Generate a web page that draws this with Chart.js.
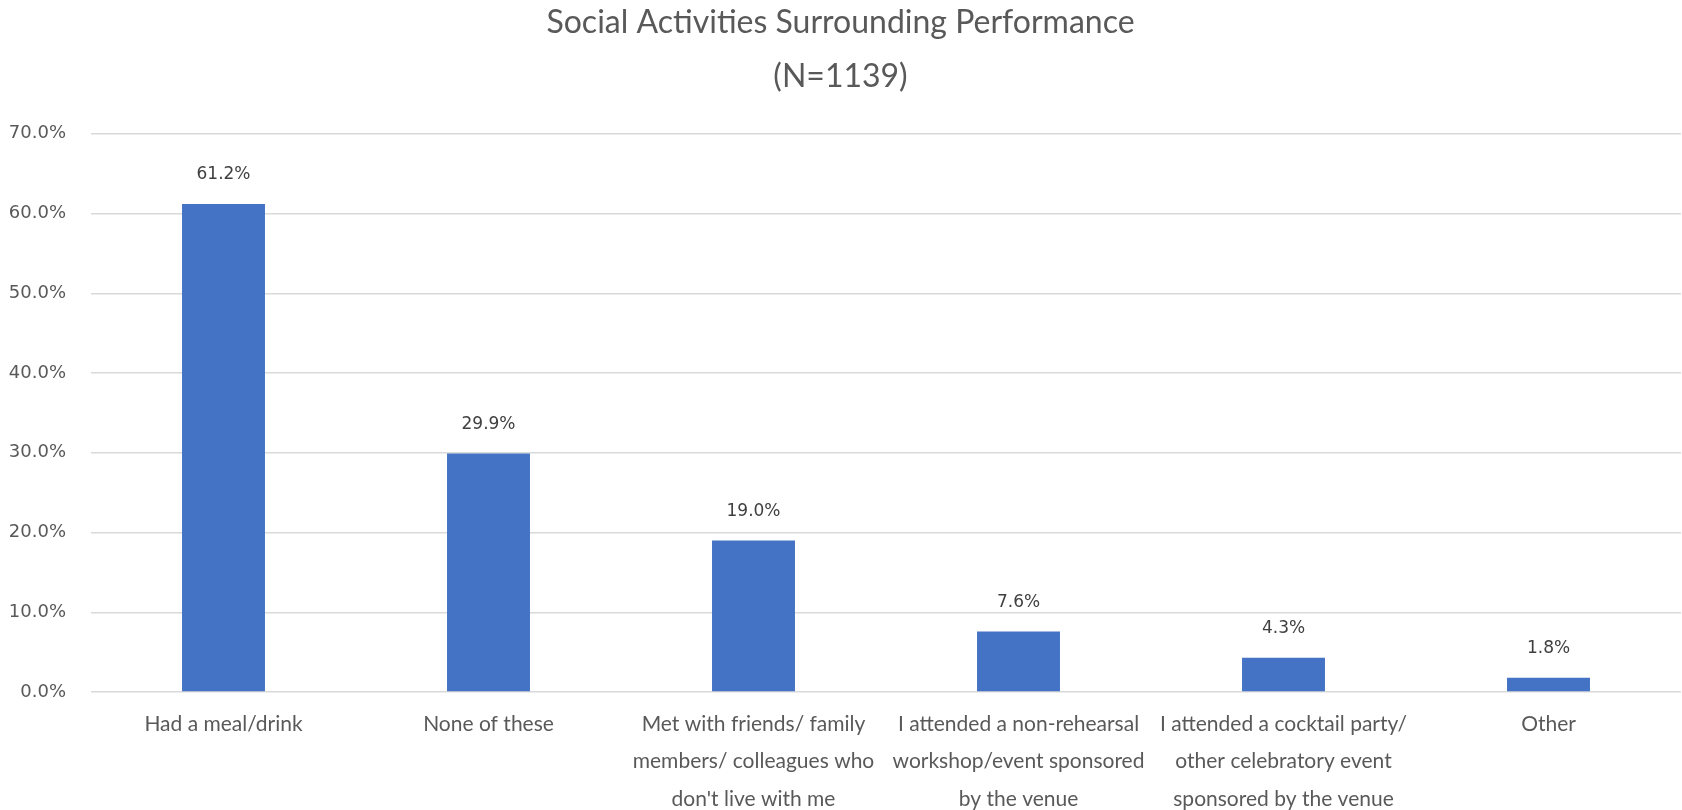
<!DOCTYPE html>
<html>
<head>
<meta charset="utf-8">
<script src="https://cdn.jsdelivr.net/npm/chart.js@4/dist/chart.umd.min.js"></script>
<style>
  body { margin: 0; background: #fff; }
</style>
</head>
<body>
<canvas id="socialChart" width="1682" height="810"></canvas>
<script>
        const labels = [
            'Had a meal/drink',
            'None of these',
            ['Met with friends/ family', 'members/ colleagues who', "don't live with me"],
            ['I attended a non-rehearsal', 'workshop/event sponsored', 'by the venue'],
            ['I attended a cocktail party/', 'other celebratory event', 'sponsored by the venue'],
            'Other',
        ];

        const values = [61.2, 29.9, 19.0, 7.6, 4.3, 1.8];

        const yTicks = [0, 10, 20, 30, 40, 50, 60, 70];

        // value labels above each bar
        const barLabels = {
            id: 'barLabels',
            afterDatasetsDraw(chart) {
                const ctx = chart.ctx;
                const meta = chart.getDatasetMeta(0);
                ctx.save();
                ctx.font = '17px "DejaVu Sans"';
                ctx.fillStyle = '#404040';
                ctx.textAlign = 'center';
                ctx.textBaseline = 'middle';
                meta.data.forEach((bar, i) => {
                    ctx.fillText(values[i].toFixed(1) + '%', bar.x, bar.y - 29);
                });
                ctx.restore();
            }
        };

        const data = {
            labels: labels,
            datasets: [{
                label: 'Social activities',
                backgroundColor: '#4472C4',
                borderColor: '#4472C4',
                data: values,
                barPercentage: 0.313,
                categoryPercentage: 1.0,
            }]
        };

        const config = {
            type: 'bar',
            data: data,
            options: {
                responsive: false,
                animation: false,
                layout: { padding: { left: 0, right: 1, top: 0, bottom: 0 } },
                plugins: {
                    legend: { display: false },
                    tooltip: { enabled: false },
                    title: {
                        display: true,
                        text: 'Social Activities Surrounding Performance',
                        color: '#595959',
                        font: { family: 'Lato', size: 32, weight: 'normal', lineHeight: 1.2 },
                        padding: { top: 3, bottom: 0 }
                    },
                    subtitle: {
                        display: true,
                        text: '(N=1139)',
                        color: '#595959',
                        font: { family: 'Lato', size: 32, weight: 'normal', lineHeight: 1.2 },
                        padding: { top: 16, bottom: 38 }
                    }
                },
                scales: {
                    x: {
                        grid: { display: false },
                        border: { display: false },
                        ticks: {
                            color: '#595959',
                            font: { family: 'Lato', size: 21, lineHeight: 1.8 },
                            autoSkip: false,
                            maxRotation: 0,
                            minRotation: 0,
                            padding: 5
                        },
                        afterFit(axis) { axis.height = 118; }
                    },
                    y: {
                        min: 0,
                        max: 70,
                        afterBuildTicks(axis) {
                            axis.ticks = yTicks.map(v => ({ value: v }));
                        },
                        afterFit(axis) { axis.width = 91; },
                        grid: { color: '#d9d9d9', lineWidth: 1.5, drawTicks: false },
                        border: { display: false },
                        ticks: {
                            color: '#595959',
                            font: { family: 'DejaVu Sans', size: 18 },
                            padding: 25,
                            callback: v => v.toFixed(1) + '%'
                        }
                    }
                }
            },
            plugins: [barLabels]
        };

        const myChart = new Chart(
            document.getElementById('socialChart'),
            config
        );
</script>
</body>
</html>
